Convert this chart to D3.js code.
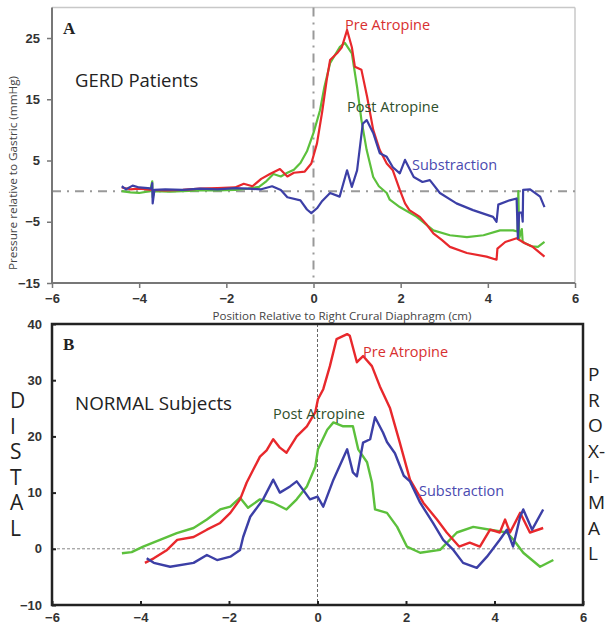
<!DOCTYPE html>
<html><head><meta charset="utf-8">
<script src="https://cdn.jsdelivr.net/npm/d3@7"></script>
<style>body{margin:0;background:#fff}svg{display:block}</style>
</head><body>
<svg id="c" width="612" height="629"></svg>
<script>
// ---------- DATA ----------
const xTicks = [-6, -4, -2, 0, 2, 4, 6];
const yTicksA = [-15, -5, 5, 15, 25];
const yTicksB = [-10, 0, 10, 20, 30, 40];
const seriesNames = ["Pre Atropine", "Post Atropine", "Substraction"];

const gerdPre = [[-4.4,0.6],[-4.2,0.3],[-4.0,0.4],[-3.7,0.2],[-3.4,0.1],[-3.0,0.2],[-2.6,0.4],[-2.2,0.5],[-1.8,0.6],[-1.6,1.2],[-1.4,0.8],[-1.2,2.0],[-1.0,2.8],[-0.77,3.6],[-0.6,2.4],[-0.45,3.0],[-0.2,3.2],[-0.05,4.5],[0.08,7.8],[0.2,13],[0.3,18],[0.38,21.4],[0.54,22.5],[0.65,23.5],[0.77,26.3],[0.88,23.5],[0.95,20.3],[1.1,19.8],[1.23,15.4],[1.37,10],[1.52,6.7],[1.68,4.5],[1.82,3.4],[1.98,0.2],[2.1,-2],[2.2,-3.1],[2.44,-4.2],[2.6,-5.5],[2.75,-6.9],[2.95,-8],[3.13,-9.1],[3.52,-10.1],[3.97,-10.7],[4.2,-11.2],[4.22,-9.4],[4.4,-8.3],[4.66,-7.7],[4.85,-8.5],[5.03,-9.1],[5.3,-10.7]];
const gerdPost = [[-4.4,0],[-4.2,-0.2],[-4.0,-0.3],[-3.75,0],[-3.7,1.6],[-3.69,-1],[-3.65,0],[-3.3,-0.1],[-3.0,0],[-2.6,0.1],[-2.2,0.1],[-1.8,0.2],[-1.5,0.4],[-1.25,0.7],[-1.1,1.5],[-0.92,2.8],[-0.75,2.4],[-0.6,3],[-0.45,3.5],[-0.3,4.6],[-0.15,6.5],[0,9.5],[0.15,13.2],[0.25,17],[0.38,20.9],[0.6,23.5],[0.72,24.2],[0.88,22.5],[1.0,17],[1.1,11.6],[1.22,6.7],[1.37,2.3],[1.5,0.8],[1.68,-0.3],[1.75,-1.4],[1.98,-2.6],[2.37,-4.2],[2.75,-6.4],[3.13,-7.2],[3.52,-7.5],[3.9,-7.2],[4.28,-6.4],[4.58,-6.4],[4.68,-6.6],[4.7,0],[4.72,-7.7],[4.78,-6.2],[4.8,-8.3],[5.0,-9],[5.15,-9.1],[5.3,-8.3]];
const gerdSub = [[-4.4,0.8],[-4.3,0.3],[-4.15,0.9],[-4.0,0.6],[-3.8,0.5],[-3.72,0.4],[-3.7,1.3],[-3.69,-2],[-3.65,0.2],[-3.4,0.3],[-3.0,0.2],[-2.6,0.4],[-2.2,0.3],[-1.8,0.5],[-1.5,0.4],[-1.2,0.3],[-0.95,0.8],[-0.75,0.2],[-0.6,-1],[-0.3,-1.5],[-0.15,-3.0],[-0.05,-3.6],[0.08,-2.8],[0.2,-1.6],[0.38,-0.3],[0.6,-0.9],[0.77,3.4],[0.88,0.7],[1.0,3.4],[1.13,11],[1.22,11.6],[1.37,9.5],[1.52,6.2],[1.68,5.6],[1.82,3.9],[1.98,2.9],[2.1,5.1],[2.3,2.3],[2.5,1.5],[2.67,1.8],[2.9,-0.3],[3.28,-2],[3.66,-3.1],[4.12,-4.2],[4.2,-5],[4.24,-2.2],[4.5,-1.5],[4.66,-1.2],[4.69,-7.7],[4.72,-3.5],[4.78,-3.5],[4.8,-5],[4.81,0.2],[4.97,0.3],[5.2,-0.9],[5.3,-2.6]];

const normPre = [[-3.9,-2.5],[-3.7,-1.7],[-3.4,-0.2],[-3.17,1.6],[-2.8,2.1],[-2.5,3.4],[-2.2,4.6],[-1.97,6.4],[-1.75,8.8],[-1.6,11.8],[-1.45,14.1],[-1.3,16.4],[-1.15,17.5],[-1.0,19.5],[-0.85,18],[-0.7,17.1],[-0.47,20],[-0.24,21.8],[-0.05,24.3],[0.01,26.6],[0.13,28.4],[0.28,32.5],[0.43,37.3],[0.67,38.2],[0.73,37.9],[0.89,33.2],[1.03,34.3],[1.23,32.5],[1.41,28.9],[1.64,25],[1.86,18.9],[2.09,12.3],[2.39,8.2],[2.7,5.2],[2.92,2.9],[3.2,0.4],[3.44,1.1],[3.67,0.4],[3.9,3.4],[4.12,2.9],[4.24,5.2],[4.35,2.9],[4.58,6.4],[4.8,2.9],[5.1,3.7]];
const normPost = [[-4.42,-0.8],[-4.2,-0.6],[-3.94,0.4],[-3.56,1.6],[-3.18,2.8],[-2.8,3.7],[-2.5,5.2],[-2.2,7],[-1.97,7.5],[-1.75,9.1],[-1.57,7.3],[-1.3,8.8],[-1.0,8.2],[-0.7,7],[-0.47,8.8],[-0.24,11.1],[-0.05,14.6],[0.01,17.7],[0.22,21.2],[0.36,22.5],[0.58,21.8],[0.8,21.8],[0.92,17.7],[1.12,15.4],[1.23,11.8],[1.3,7],[1.57,6.4],[1.8,3.9],[2.02,0.4],[2.32,-0.7],[2.77,-0.2],[3.15,2.9],[3.52,3.9],[3.9,3.4],[4.28,2.9],[4.43,1.6],[4.65,-0.7],[5.03,-3.2],[5.33,-2]];
const normSub = [[-3.86,-1.7],[-3.7,-2.5],[-3.33,-3.2],[-2.8,-2.5],[-2.5,-1.1],[-2.27,-2],[-1.97,-1.4],[-1.75,-0.2],[-1.68,2.1],[-1.52,5.7],[-1.23,8.8],[-1.0,12.3],[-0.85,10],[-0.62,11.1],[-0.47,12],[-0.28,10],[-0.17,8.8],[0,9.3],[0.13,7.5],[0.36,12.3],[0.67,17.7],[0.8,13.6],[0.89,12.9],[1.03,18.9],[1.19,19.5],[1.3,23.4],[1.48,20.7],[1.57,19],[1.75,17],[1.95,13],[2.09,12],[2.32,8.2],[2.61,4.6],[2.84,1.6],[3.07,-0.2],[3.29,-2.5],[3.6,-3.4],[3.83,-1.4],[4.12,1.6],[4.28,3.4],[4.42,0.4],[4.58,5.7],[4.65,7],[4.85,3.4],[5.1,7]];

// ---------- DRAW ----------
const svg = d3.select("#c");
const red = "#e8282c", green = "#5cc03c", blue = "#3c3fa6";
const sans = "Open Sans, sans-serif";

// ===== Panel A =====
const xA = d3.scaleLinear().domain([-6, 6]).range([52, 575]);
const yA = d3.scaleLinear().domain([-15, 30]).range([283, 7.4]);
const gA = svg.append("g");

gA.append("line").attr("x1", xA(-6)).attr("x2", xA(6)).attr("y1", yA(30)).attr("y2", yA(30)).attr("stroke", "#c8c8c8").attr("stroke-width", 1.5);
gA.append("line").attr("x1", xA(6)).attr("x2", xA(6)).attr("y1", yA(30)).attr("y2", yA(-15)).attr("stroke", "#c8c8c8").attr("stroke-width", 1.5);

gA.append("line").attr("x1", xA(-6)).attr("x2", xA(6)).attr("y1", yA(0)).attr("y2", yA(0))
  .attr("stroke", "#999").attr("stroke-width", 2).attr("stroke-dasharray", "9,6,2,6");
gA.append("line").attr("x1", xA(0)).attr("x2", xA(0)).attr("y1", yA(30)).attr("y2", yA(-15))
  .attr("stroke", "#999").attr("stroke-width", 2).attr("stroke-dasharray", "9,6,2,6");

const axAx = d3.axisBottom(xA).tickValues(xTicks).tickSize(5).tickFormat(d3.format("d"));
const axAy = d3.axisLeft(yA).tickValues(yTicksA).tickSize(5).tickFormat(d3.format("d"));
const gx = gA.append("g").attr("transform", `translate(0,${yA(-15)})`).call(axAx);
const gy = gA.append("g").attr("transform", `translate(${xA(-6)},0)`).call(axAy);
[gx, gy].forEach(g => {
  g.select(".domain").attr("stroke", "#777").attr("stroke-width", 2);
  g.selectAll(".tick line").attr("stroke", "#777").attr("stroke-width", 1.5);
  g.selectAll(".tick text").attr("font-family", "Liberation Sans, Arial, sans-serif").attr("font-weight", "bold").attr("font-size", 13).attr("fill", "#333");
});
gy.select(".domain").attr("d", `M0,${yA(30)}V${yA(-15)}`);
gx.select(".domain").attr("d", `M${xA(-6)},0H${xA(6)}`);
gx.selectAll(".tick text").attr("dy", "0.9em");
gy.selectAll(".tick text").attr("x", -12);

const lineA = d3.line().x(d => xA(d[0])).y(d => yA(d[1]));
[[gerdPost, green], [gerdPre, red], [gerdSub, blue]].forEach(([data, c]) => {
  gA.append("path").datum(data).attr("d", lineA).attr("fill", "none").attr("stroke", c)
    .attr("stroke-width", 2.2).attr("stroke-linejoin", "round");
});

gA.append("text").attr("x", 63).attr("y", 34).text("A")
  .attr("font-family", "Liberation Serif, Times New Roman, serif").attr("font-weight", "bold").attr("font-size", 17).attr("fill", "#222");
gA.append("text").attr("x", 75).attr("y", 87).text("GERD Patients")
  .attr("font-family", sans).attr("font-size", 18.5).attr("fill", "#222");
gA.append("text").attr("x", 345).attr("y", 30).text(seriesNames[0])
  .attr("font-family", sans).attr("font-size", 14.5).attr("fill", "#d83030");
gA.append("text").attr("x", 347).attr("y", 112).text(seriesNames[1])
  .attr("font-family", sans).attr("font-size", 14.5).attr("fill", "#2f4f2c");
gA.append("text").attr("x", 412).attr("y", 170).text(seriesNames[2])
  .attr("font-family", sans).attr("font-size", 14.5).attr("fill", "#4a4ab0");
gA.append("text").attr("transform", `translate(17,173) rotate(-90)`)
  .attr("text-anchor", "middle").text("Pressure relative to Gastric (mmHg)")
  .attr("font-family", sans).attr("font-size", 11).attr("fill", "#444")
  .attr("textLength", 194).attr("lengthAdjust", "spacingAndGlyphs");
gA.append("text").attr("x", 342).attr("y", 320).attr("text-anchor", "middle")
  .text("Position Relative to Right Crural Diaphragm (cm)")
  .attr("font-family", sans).attr("font-size", 11).attr("fill", "#444")
  .attr("textLength", 259).attr("lengthAdjust", "spacingAndGlyphs");

// ===== Panel B =====
const xB = d3.scaleLinear().domain([-6, 6]).range([52, 583]);
const yB = d3.scaleLinear().domain([-10, 40]).range([605, 324]);
const gB = svg.append("g");

gB.append("line").attr("x1", xB(-6)).attr("x2", xB(6)).attr("y1", yB(0)).attr("y2", yB(0))
  .attr("stroke", "#888").attr("stroke-width", 1).attr("stroke-dasharray", "3,2");
gB.append("line").attr("x1", xB(0)).attr("x2", xB(0)).attr("y1", yB(40)).attr("y2", yB(-10))
  .attr("stroke", "#666").attr("stroke-width", 1).attr("stroke-dasharray", "3,2");

const axBx = d3.axisBottom(xB).tickValues(xTicks).tickSize(-4).tickFormat(d3.format("d"));
const axBy = d3.axisLeft(yB).tickValues(yTicksB).tickSize(-4).tickFormat(d3.format("d"));
const bx = gB.append("g").attr("transform", `translate(0,${yB(-10)})`).call(axBx);
const by = gB.append("g").attr("transform", `translate(${xB(-6)},0)`).call(axBy);
[bx, by].forEach(g => {
  g.select(".domain").remove();
  g.selectAll(".tick line").attr("stroke", "#222").attr("stroke-width", 2);
  g.selectAll(".tick text").attr("font-family", "Liberation Sans, Arial, sans-serif").attr("font-weight", "bold").attr("font-size", 13).attr("fill", "#333");
});
bx.selectAll(".tick text").attr("y", 8);
by.selectAll(".tick text").attr("x", -10);

const lineB = d3.line().x(d => xB(d[0])).y(d => yB(d[1]));
[[normPost, green], [normPre, red], [normSub, blue]].forEach(([data, c]) => {
  gB.append("path").datum(data).attr("d", lineB).attr("fill", "none").attr("stroke", c)
    .attr("stroke-width", 2.4).attr("stroke-linejoin", "round");
});

gB.append("rect").attr("x", xB(-6)).attr("y", yB(40)).attr("width", xB(6) - xB(-6)).attr("height", yB(-10) - yB(40))
  .attr("fill", "none").attr("stroke", "#222").attr("stroke-width", 2.5);

gB.append("text").attr("x", 63).attr("y", 350).text("B")
  .attr("font-family", "Liberation Serif, Times New Roman, serif").attr("font-weight", "bold").attr("font-size", 17).attr("fill", "#222");
gB.append("text").attr("x", 75).attr("y", 410).text("NORMAL Subjects")
  .attr("font-family", sans).attr("font-size", 18.8).attr("fill", "#222");
gB.append("text").attr("x", 363).attr("y", 357).text(seriesNames[0])
  .attr("font-family", sans).attr("font-size", 14.5).attr("fill", "#d83030");
gB.append("text").attr("x", 273).attr("y", 419).text(seriesNames[1])
  .attr("font-family", sans).attr("font-size", 14.5).attr("fill", "#2f4f2c");
gB.append("text").attr("x", 419).attr("y", 496).text(seriesNames[2])
  .attr("font-family", sans).attr("font-size", 14.5).attr("fill", "#4a4ab0");

const distal = ["D", "I", "S", "T", "A", "L"];
const proximal = ["P", "R", "O", "X-", "I-", "M", "A", "L"];
distal.forEach((ch, i) => gB.append("text").attr("x", 10).attr("y", 408 + i * 25.6).text(ch)
  .attr("font-family", sans).attr("font-size", 21).attr("fill", "#222"));
proximal.forEach((ch, i) => gB.append("text").attr("x", 588).attr("y", 381 + i * 25.6).text(ch)
  .attr("font-family", sans).attr("font-size", 19).attr("fill", "#222"));
</script>
</body></html>
